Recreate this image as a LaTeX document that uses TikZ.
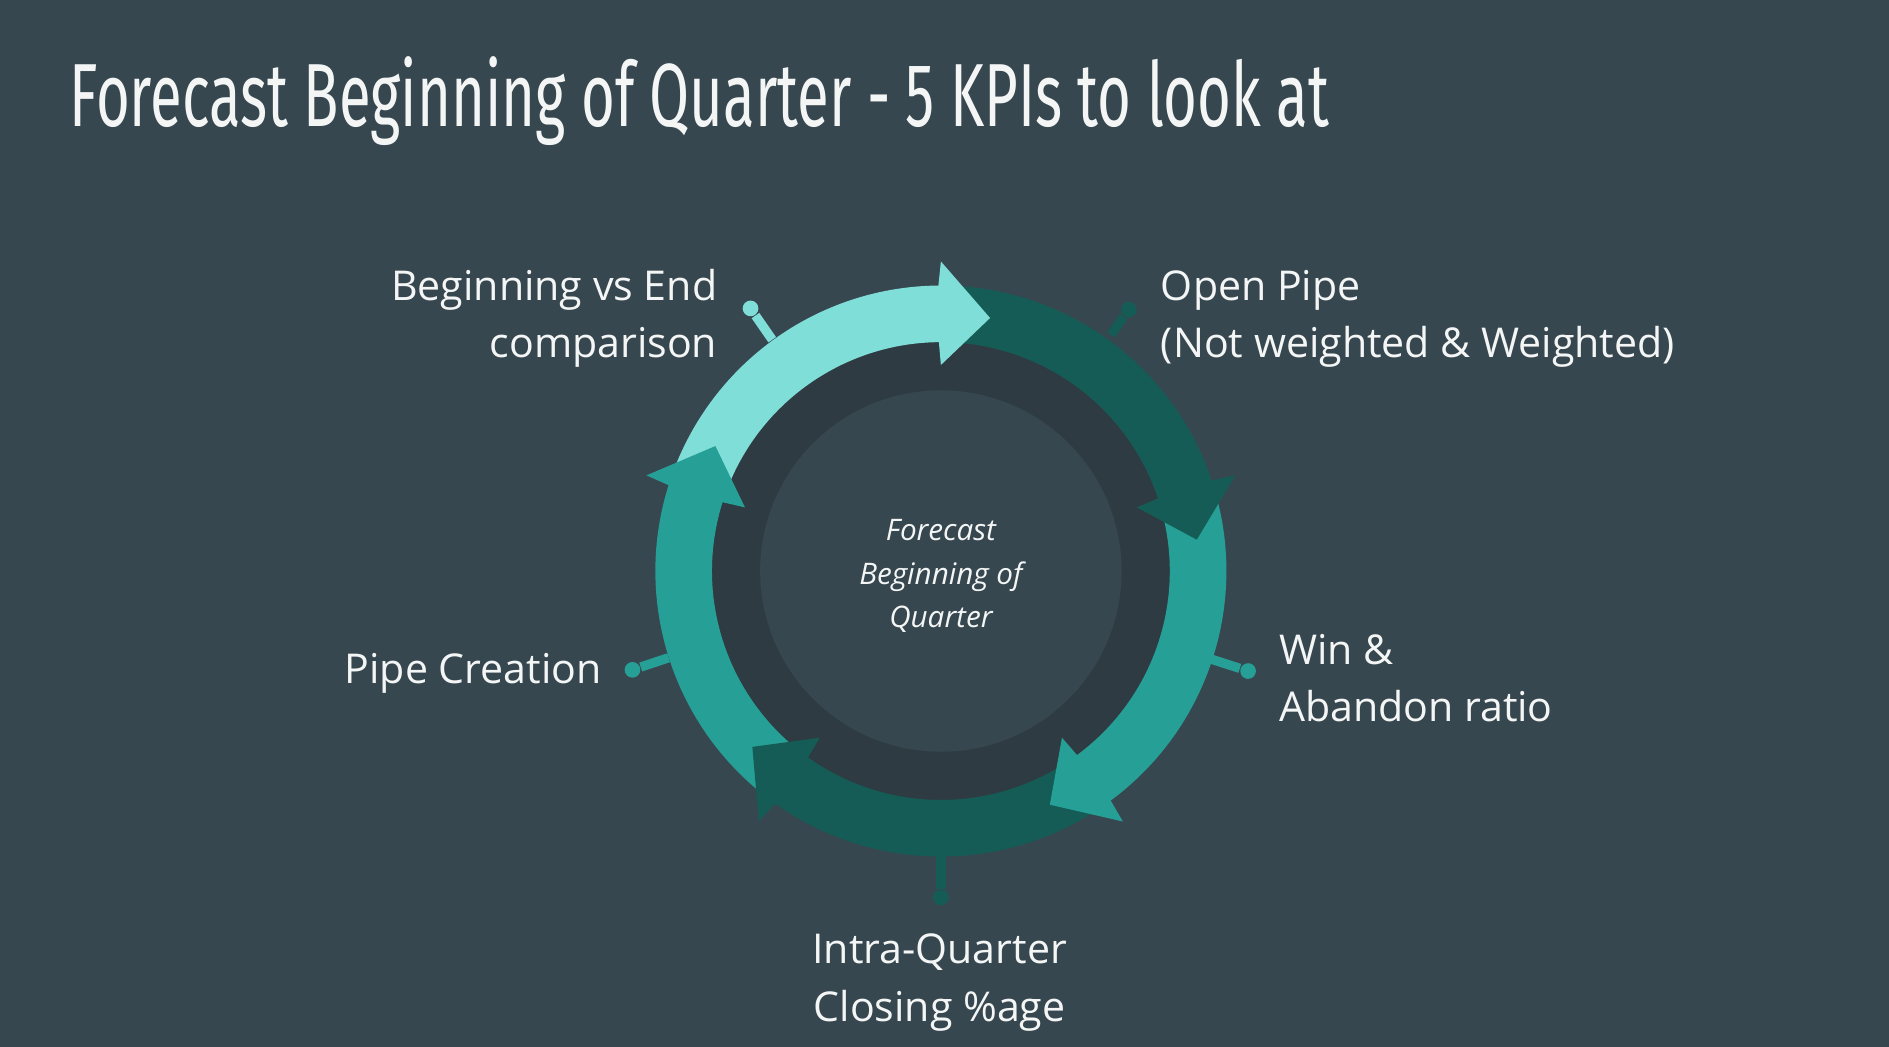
\documentclass[tikz,border=0pt]{standalone}
\usepackage{fontspec}
\setmainfont{Open Sans}
\newfontfamily\titlefont{Fira Sans}
\usepackage{tikz}
\usetikzlibrary{calc}

\definecolor{slide}{HTML}{37474F}
\definecolor{ringdark}{HTML}{2F3B42}
\definecolor{tealpale}{HTML}{80DED9}
\definecolor{tealdeep}{HTML}{145C55}
\definecolor{tealmid}{HTML}{26A096}
\definecolor{inktext}{HTML}{F4F6F6}

\tikzset{
  kpi/.style={text=inktext, font=\fontsize{9.7}{13.6}\selectfont, inner sep=0pt},
  stem/.style={line width=2.2pt},
  knob/.style={circle, fill, inner sep=0pt, minimum size=0.13cm}
}

% body of a curved arrow: from angle #2 clockwise to base #3
\newcommand{\ringbody}[3]{%
  \fill[#1] (#2:237) arc[start angle=#2, end angle=#3, radius=237]
    -- (#3:190) arc[start angle=#3, end angle=#2, radius=190] -- cycle;}
% head of 11 degrees at base #2
\newcommand{\ringhead}[2]{%
  \fill[#1] ({#2+0.5}:237) -- (#2:257) -- ({#2-11}:214) -- (#2:171)
    -- ({#2+0.5}:190) -- cycle;}

\begin{document}
\begin{tikzpicture}[x=0.01cm, y=-0.01cm]
\fill[slide] (0,0) rectangle (1568,869);
\useasboundingbox (0,0) rectangle (1568,869);

% title
\node[anchor=base west, inner sep=0pt, text=inktext] (title) at (57,105)
  {\resizebox{10.45cm}{0.58cm}{\titlefont Forecast Beginning of Quarter - 5 KPIs to look at}};

% ring
\begin{scope}[shift={(781,474)}, yscale=-1]
  \fill[ringdark] (0,0) circle[radius=192];
  \fill[slide] (0,0) circle[radius=150];
  \ringbody{tealpale}{162}{90}
  \ringbody{tealdeep}{90}{18}
  \ringbody{tealmid}{18}{-54}
  \ringbody{tealdeep}{-54}{-126}
  \ringbody{tealmid}{-126}{-198}
  \ringhead{tealpale}{90}
  \ringhead{tealdeep}{18}
  \ringhead{tealmid}{-54}
  \ringhead{tealdeep}{-126}
  \ringhead{tealmid}{-198}
\end{scope}

\node[text=inktext, align=center, font=\fontsize{7}{10.3}\selectfont\itshape, inner sep=0pt, anchor=base] (hub) at (781,521)
  {Forecast\\Beginning of\\Quarter};

% connectors
\node[knob, tealpale] (d1) at (623,256) {};
\coordinate (e1) at (641,282);
\draw[stem, tealpale] (d1) -- (e1);
\node[knob, tealdeep] (d2) at (937,257) {};
\coordinate (e2) at (922,278);
\draw[stem, tealdeep] (d2) -- (e2);
\node[knob, tealmid] (d3) at (1036,557) {};
\coordinate (e3) at (1005,547);
\draw[stem, tealmid] (d3) -- (e3);
\node[knob, tealdeep] (d4) at (781,745) {};
\coordinate (e4) at (781,710);
\draw[stem, tealdeep] (d4) -- (e4);
\node[knob, tealmid] (d5) at (525,556) {};
\coordinate (e5) at (555,546);
\draw[stem, tealmid] (d5) -- (e5);

% labels
\node[kpi, anchor=base east, align=right] (compare) at (596,297) {Beginning vs End\\comparison};
\node[kpi, anchor=base west, align=left] (openpipe) at (963,297) {Open Pipe\\(Not weighted \& Weighted)};
\node[kpi, anchor=base west, align=left] (winrate) at (1061,599) {Win \&\\Abandon ratio};
\node[kpi, anchor=base, align=center] (intra) at (780,848) {Intra-Quarter\\Closing \%age};
\node[kpi, anchor=base east] (pipecreate) at (500,567) {Pipe Creation};
\end{tikzpicture}
\end{document}
